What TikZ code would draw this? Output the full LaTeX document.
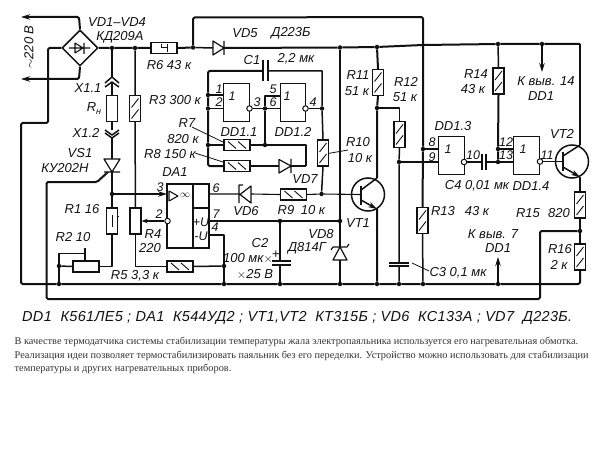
\documentclass[tikz,border=0pt]{standalone}
\usepackage{fontspec}
\setmainfont{Liberation Sans}
\newfontfamily\parafont{Liberation Serif}
\usetikzlibrary{shapes.geometric,arrows.meta}
\definecolor{ink}{HTML}{111111}
\definecolor{paraink}{HTML}{333333}
\tikzset{
  wire/.style={draw=ink,line width=1.5pt,line join=round},
  bus/.style={draw=ink,line width=2pt,line join=round,rounded corners=1.5pt},
  thinw/.style={draw=ink,line width=0.8pt},
  arr/.style={-{Stealth[length=9pt,width=5.5pt]}},
  jn/.style={circle,fill=ink,inner sep=0pt,minimum size=4.5pt},
  lbl/.style={inner sep=0pt,text=ink,font=\itshape\fontsize{13}{13}\selectfont},
  pin/.style={inner sep=0pt,text=ink,font=\itshape\fontsize{12.5}{13}\selectfont},
  chipbox/.style={draw=ink,line width=1.4pt,minimum width=25.5pt,minimum height=38pt,inner sep=0pt},
  bubble/.style={circle,draw=ink,line width=1pt,fill=white,minimum size=5.5pt,inner sep=0pt},
  resv/.style={draw=ink,line width=1.3pt,fill=white,minimum width=11pt,minimum height=26pt,inner sep=0pt},
  resh/.style={draw=ink,line width=1.3pt,fill=white,minimum width=26pt,minimum height=11pt,inner sep=0pt},
  hatchv/.style={resv,path picture={
    \draw[line width=0.9pt,ink] (path picture bounding box.center) ++(-3.5,-1) -- ++(7,-9);
    \draw[line width=0.9pt,ink] (path picture bounding box.center) ++(-3.5,10) -- ++(7,-9);}},
  hatchh/.style={resh,path picture={
    \draw[line width=0.9pt,ink] (path picture bounding box.center) ++(-9,-3.5) -- ++(8,7);
    \draw[line width=0.9pt,ink] (path picture bounding box.center) ++(1,-3.5) -- ++(8,7);}},
  transc/.style={circle,draw=ink,line width=1.5pt,minimum size=33pt,inner sep=0pt},
}
\begin{document}
\begin{tikzpicture}[x=1pt,y=-1pt]
\useasboundingbox (0,0) rectangle (604,449);

% ---------- junctions
\node[jn] (j1) at (112,48) {};
\node[jn] (j2) at (135,48) {};
\node[jn] (j3) at (193,47.5) {};
\node[jn] (j4) at (340,47.5) {};
\node[jn] (j5) at (377,47) {};
\node[jn] (j6) at (498,44) {};
\node[jn] (j7) at (542,44) {};
\node[jn] (j8) at (423,149) {};
\node[jn] (j9) at (59,284) {};
\node[jn] (j9b) at (59,266) {};
\node[jn] (j10) at (224,284) {};
\node[jn] (j10b) at (224,266) {};
\node[jn] (j11) at (280,284) {};
\node[jn] (j12) at (340,284) {};
\node[jn] (j13) at (377,284) {};
\node[jn] (j14) at (399,284) {};
\node[jn] (j15) at (423,284) {};
\node[jn] (j16) at (498,284) {};
\node[jn] (j17) at (580,231) {};
\node[jn] (j18) at (112,194) {};
\node[jn] (j19) at (280,221) {};
\node[jn] (j20) at (340,221) {};
\node[jn] (j21) at (321.5,194) {};
\node[jn] (j22) at (377,108) {};
\node[jn] (j23) at (399,162) {};
\node[jn] (j24) at (498,149) {};
\node[jn] (j25) at (498,162) {};
\node[jn] (j26) at (208,95) {};
\node[jn] (j27) at (208,108.5) {};
\node[jn] (j28) at (208,145) {};
\node[jn] (j29) at (265,108.5) {};
\node[jn] (j30) at (265,145) {};
\node[jn] (j31) at (322,108.5) {};

% ---------- resistors
\node[resh,path picture={\draw[line width=1pt,ink] (path picture bounding box.center) ++(-3,-4) -- ++(0,4) -- ++(6,0) ++(0,-4) -- ++(0,8);}] (R6) at (164,48) {};
\node[resv] (RH) at (112,108.5) {};
\node[hatchv] (R3) at (135,108.5) {};
\node[resv,path picture={\draw[line width=1.3pt,ink] (path picture bounding box.center) ++(0.5,-6) -- ++(0,12);}] (R1) at (112,221) {};
\node[resv,minimum width=11pt] (R4) at (135.5,221) {};
\node[resh] (R2) at (86,266.5) {};
\node[hatchh] (R5) at (180,266.5) {};
\node[hatchh] (R7) at (237,145) {};
\node[hatchh] (R8) at (237,166) {};
\node[hatchh] (R9) at (293.5,194.5) {};
\node[hatchv] (R10) at (323,153) {};
\node[hatchv] (R11) at (378,82.5) {};
\node[hatchv] (R12) at (399.5,134.5) {};
\node[hatchv] (R13) at (422.5,220.5) {};
\node[hatchv] (R14) at (498.5,81) {};
\node[hatchv] (R15) at (580,205) {};
\node[hatchv] (R16) at (580,257) {};

% ---------- chips
\node[chipbox] (DD11) at (236.5,102.5) {};
\node[chipbox] (DD12) at (293,102.5) {};
\node[chipbox] (DD13) at (451.5,155.5) {};
\node[chipbox] (DD14) at (526.5,155.5) {};
\node[bubble] (b1) at (249.5,108.5) {};
\node[bubble] (b2) at (305.5,108.5) {};
\node[bubble] (b3) at (464,162) {};
\node[bubble] (b4) at (540,161.5) {};
\node[chipbox,minimum width=42pt,minimum height=64pt] (DA1) at (188,216) {};
\draw[thinw,line width=1.2pt] (193,184) -- (193,248) (193,208) -- (209,208);
\node[bubble] (b5) at (167.5,221) {};
\node[pin] (l1a) at (232,96) {1};
\node[pin] (l1b) at (287,96) {1};
\node[pin] (l1c) at (448,149) {1};
\node[pin] (l1d) at (523,149) {1};
\draw[wire,line width=1.1pt] (169,191) -- (178,196) -- (169,201) -- cycle;
\node[inner sep=0pt,font=\fontsize{10}{10}\selectfont] (inf) at (185,195.5) {$\infty$};

% ---------- bridge
\node[diamond,aspect=1,draw=ink,line width=1.5pt,minimum width=36pt,minimum height=36pt,inner sep=0pt] (BR) at (80,48) {};
\draw[wire,line width=1.1pt] (69,48) -- (90,48) (75,43) -- (75,53) -- (83,48) -- cycle (84,43) -- (84,54);
\coordinate (c1a) at (79,17);
\coordinate (c1b) at (21,17);
\coordinate (c2a) at (79,79);
\coordinate (c2b) at (21,79);
\draw[bus,arr] (BR.north) -- (c1a) -- (c1b);
\draw[bus,arr] (BR.south) -- (c2a) -- (c2b);
\coordinate (c3a) at (48,48);
\coordinate (c3b) at (48,123);
\coordinate (c3c) at (21,123);
\coordinate (c3d) at (21,284);
\coordinate (c3e) at (580,284);
\draw[bus] (BR.west) -- (c3a) -- (c3b) -- (c3c) -- (c3d) -- (j9) -- (j10) -- (j11) -- (j12) -- (j13) -- (j14) -- (j15) -- (j16) -- (c3e) -- (R16.south);

% ---------- main + rail
\draw[bus] (BR.east) -- (j1) -- (j2) -- (R6.west) (R6.east) -- (j3);
\coordinate (d5a) at (213,48);
\coordinate (d5b) at (224,48);
\draw[wire] (j3) -- (d5a);
\draw[wire,line width=1.2pt] (213,41) -- (213,55) -- (224,48) -- cycle (224,41) -- (224,55);
\coordinate (c4a) at (423,45);
\coordinate (c4b) at (580,44);
\draw[bus] (d5b) -- (j4) -- (j5) -- (c4a) -- (j6) -- (j7) -- (c4b);
\coordinate (c5a) at (193,17.5);
\coordinate (c5b) at (423,17);
\draw[bus] (j3) -- (c5a) -- (c5b) -- (j8) -- (R13.north);
\draw[wire] (R13.south) -- (j15);

% ---------- load branch
\coordinate (x1a) at (112,77);
\coordinate (x1b) at (112,82);
\coordinate (x2a) at (112,130);
\coordinate (x2b) at (112,138);
\coordinate (vsA) at (112,159);
\coordinate (vsK) at (112,172);
\draw[wire] (j1) -- (x1a) (x1b) -- (RH.north) (RH.south) -- (x2a) (x2b) -- (vsA) (vsK) -- (j18) -- (R1.north);
\draw[wire] (105,83) -- (112,77) -- (119,83) (105,87) -- (112,82) -- (119,87);
\draw[wire] (105,130) -- (112,135) -- (119,130) (105,133) -- (112,138) -- (119,133);
\draw[wire,line width=1.2pt] (104,159) -- (120,159) -- (112,172) -- cycle (104,172) -- (120,172);
\coordinate (g1) at (108,172);
\coordinate (g2) at (97,182);
\coordinate (g3) at (46.5,182);
\coordinate (g4) at (46.5,299);
\coordinate (g5) at (540,299);
\coordinate (g6) at (540,231);
\draw[bus] (g1) -- (g2) -- (g3) -- (g4) -- (g5) -- (g6) -- (j17);
\draw[wire,line width=1pt] (117,216) -- (119,216);
\coordinate (r1b) at (112,266.5);
\draw[wire] (R1.south) -- (r1b) -- (R2.east);
\draw[wire] (R2.west) -- (j9b);
\coordinate (r2t) at (59,253.5);
\coordinate (r2u) at (85,253.5);
\coordinate (r2v) at (85,248);
\draw[wire] (j9) -- (j9b) -- (r2t) -- (r2u);
\draw[wire] (r2v) -- (R2.north -| r2v);

% ---------- R3, R4, R5
\draw[wire] (j2) -- (R3.north) (R3.south) -- (R4.north);
\coordinate (r4b) at (135.5,266.5);
\draw[wire] (R4.south) -- (r4b) -- (R5.west);
\draw[wire] (R5.east) -- (j10b);
\draw[wire,<-,>={Stealth[length=6pt,width=4.5pt]}] (R4.east) -- (b5.west);
\coordinate (p3) at (167,194);
\draw[wire,arr] (j18) -- (p3);
\coordinate (p4a) at (209,235);
\coordinate (p4b) at (224,235);
\draw[wire] (p4a) -- (p4b) -- (j10b) -- (j10);
\coordinate (p7) at (209,221);
\draw[wire] (p7) -- (j19) -- (j20);
\coordinate (p6) at (209,194);
\coordinate (vd6k) at (240,194);
\coordinate (vd6a) at (251,194);
\draw[wire,line width=1.1pt] (p6) -- (vd6k) (vd6a) -- (R9.west);
\draw[wire,line width=1.2pt] (251,186) -- (251,203) -- (240,194.5) -- cycle (243,185) -- (239,185) -- (239,203);

% ---------- C2
\coordinate (c2t) at (280,261);
\coordinate (c2b) at (280,265);
\draw[wire] (j19) -- (c2t) (c2b) -- (j11);
\draw[wire] (272,261) -- (291,261) (272,265) -- (291,265);
\node[pin,font=\fontsize{13}{13}\selectfont] (c2plus) at (276,255) {+};

% ---------- VD8
\coordinate (vd8t) at (340,247);
\draw[bus] (j4) -- (j20) -- (vd8t);
\coordinate (vd8b) at (340,260);
\draw[bus] (vd8b) -- (j12);
\draw[wire,line width=1.2pt] (333,260) -- (347,260) -- (340,247) -- cycle (331,250) -- (333,247) -- (347,247) -- (349,244);

% ---------- VT1
\node[transc] (VT1) at (368,194.5) {};
\coordinate (bt1) at (361,194.5);
\draw[wire,line width=1.1pt] (R9.east) -- (j21) -- (bt1);
\draw[wire,line width=1.8pt] (361,186) -- (361,205);
\coordinate (vt1c) at (377,178);
\coordinate (vt1e) at (377,209);
\draw[wire] (361,190) -- (vt1c);
\draw[wire,arr] (361,200) -- (vt1e);
\draw[bus] (j5) -- (R11.north) (R11.south) -- (j22) -- (vt1c) (vt1e) -- (j13);
\coordinate (r12a) at (399.5,108);
\draw[wire] (j22) -- (r12a) -- (R12.north);
\coordinate (c3t) at (399,263);
\coordinate (c3u) at (399,266);
\draw[wire] (R12.south) -- (j23) -- (c3t) (c3u) -- (j14);
\draw[wire] (389,263) -- (409,263) (389,266) -- (409,266);
\coordinate (c3l1) at (412,263);
\coordinate (c3l2) at (429,271);
\draw[thinw] (c3l1) -- (c3l2);

% ---------- DD1.1 / DD1.2
\coordinate (rail1) at (208,71);
\coordinate (c1p1) at (263,71);
\coordinate (c1p2) at (268,71);
\coordinate (c1r) at (322,71);
\coordinate (rail2) at (208,166);
\draw[bus] (c1p1) -- (rail1) -- (j26) -- (j27) -- (j28) -- (rail2) -- (R8.west);
\draw[wire] (c1p2) -- (c1r) -- (j31) -- (R10.north);
\draw[wire] (263,60) -- (263,81) (268,60) -- (268,81);
\coordinate (pa1) at (224,95);
\coordinate (pa2) at (224,108.5);
\draw[wire] (j26) -- (pa1) (j27) -- (pa2);
\draw[wire] (b1) -- (j29) (j29) -- (j30);
\coordinate (pb5a) at (265,96);
\coordinate (pb5b) at (280,96);
\coordinate (pb6) at (280,108.5);
\draw[wire] (j29) -- (pb5a) -- (pb5b) (j29) -- (pb6);
\draw[wire] (b2) -- (j31);
\draw[wire] (j28) -- (R7.west) (R7.east) -- (j30);
\coordinate (e1) at (306,145);
\coordinate (e2) at (306,166);
\draw[wire] (j30) -- (e1) -- (e2);
\coordinate (vd7a) at (279,166);
\coordinate (vd7k) at (291,166);
\draw[wire] (R8.east) -- (vd7a) (vd7k) -- (e2);
\draw[wire,line width=1.2pt] (279,159.5) -- (279,173) -- (291,166) -- cycle (291,159) -- (291,173);
\draw[wire] (R10.south) -- (j21);
\coordinate (l7a) at (192,127);
\coordinate (l7b) at (225,143);
\draw[thinw] (l7a) -- (l7b);
\coordinate (l8a) at (195,153);
\coordinate (l8b) at (223,162);
\draw[thinw] (l8a) -- (l8b);
\coordinate (l10a) at (328,153.5);
\coordinate (l10b) at (348,150);
\draw[thinw] (l10a) -- (l10b);

% ---------- DD1.3 / DD1.4
\coordinate (p8) at (439,149);
\coordinate (p9) at (439,162);
\draw[wire] (j8) -- (p8);
\draw[wire] (j23) -- (p9);
\coordinate (c4a1) at (482,162);
\coordinate (c4b1) at (486,162);
\draw[wire] (b3) -- (c4a1) (c4b1) -- (j25);
\draw[wire] (482,154) -- (482,170) (486,154) -- (486,170);
\coordinate (p12) at (514,149);
\coordinate (p13) at (514,162);
\draw[wire] (j6) -- (R14.north);
\draw[bus] (R14.south) -- (j24) -- (j25);
\draw[wire] (j24) -- (p12) (j25) -- (p13);
\coordinate (k14) at (542,72);
\draw[wire,line width=1.1pt,arr] (j7) -- (k14);
\coordinate (k7) at (498,257);
\draw[wire,line width=1.1pt,arr] (j16) -- (k7);

% ---------- VT2
\node[transc] (VT2) at (572,161.5) {};
\coordinate (bt2) at (563,161.5);
\draw[wire] (b4) -- (bt2);
\draw[wire,line width=1.8pt] (563,152) -- (563,171);
\coordinate (vt2c) at (580,145);
\coordinate (vt2e) at (580,177);
\draw[wire] (563,156) -- (vt2c);
\draw[wire,arr] (563,167) -- (vt2e);
\draw[bus] (c4b) -- (vt2c) (vt2e) -- (R15.north) (R15.south) -- (j17) -- (R16.north);

% ---------- labels
\node[lbl] (t1) at (117,22) {VD1–VD4};
\node[lbl] (t2) at (120,37) {КД209А};
\node[lbl,rotate=90] (t3) at (29,47) {$\sim$220 В};
\node[lbl] (t4) at (169,65) {R6 43 к};
\node[lbl] (t5) at (88,88) {X1.1};
\node[lbl] (t6) at (94,109) {R\raisebox{-3pt}{\fontsize{9}{9}\selectfont н}};
\node[lbl] (t7) at (86,133) {X1.2};
\node[lbl] (t8) at (175,100) {R3 300 к};
\node[lbl] (t9) at (187,123) {R7};
\node[lbl] (t10) at (183,139) {820 к};
\node[lbl] (t11) at (170,154) {R8 150 к};
\node[lbl] (t12) at (80,153) {VS1};
\node[lbl] (t13) at (65,168) {КУ202Н};
\node[lbl] (t14) at (175,172) {DA1};
\node[pin] (t15) at (160,187) {3};
\node[pin] (t16) at (159,214) {2};
\node[lbl] (t17) at (153,234) {R4};
\node[lbl] (t18) at (150,248) {220};
\node[lbl] (t19) at (82,209) {R1 16};
\node[lbl] (t20) at (73,237) {R2 10};
\node[lbl] (t21) at (135,276) {R5 3,3 к};
\node[lbl] (t22) at (252,60) {C1};
\node[lbl] (t23) at (296,59) {2,2 мк};
\node[lbl] (t24) at (245,33) {VD5};
\node[lbl] (t25) at (291,33) {Д223Б};
\node[lbl] (t26) at (239,132) {DD1.1};
\node[lbl] (t27) at (293,132) {DD1.2};
\node[pin] (t28) at (219,89) {1};
\node[pin] (t29) at (219,102) {2};
\node[pin] (t30) at (257,102) {3};
\node[pin] (t31) at (273,89) {5};
\node[pin] (t32) at (273,102) {6};
\node[pin] (t33) at (313,102) {4};
\node[lbl] (t34) at (358,75) {R11};
\node[lbl] (t35) at (357,91) {51 к};
\node[lbl] (t36) at (406,82) {R12};
\node[lbl] (t37) at (405,97) {51 к};
\node[lbl] (t38) at (358,142) {R10};
\node[lbl] (t39) at (360,158) {10 к};
\node[lbl] (t40) at (305,179) {VD7};
\node[lbl] (t41) at (246,211) {VD6};
\node[pin] (t42) at (216,188) {6};
\node[pin] (t43) at (216,214) {7};
\node[pin] (t44) at (215,227) {4};
\node[lbl] (t45) at (286,210) {R9};
\node[lbl] (t46) at (313,210) {10 к};
\node[lbl] (t47) at (358,223) {VT1};
\node[lbl] (t48) at (321,234) {VD8};
\node[lbl] (t49) at (307,248) {Д814Г};
\node[lbl] (t50) at (260,243) {C2};
\node[lbl] (t51) at (248,258) {100 мк$\times$};
\node[lbl] (t52) at (255,274) {$\times$25 В};
\node[lbl] (t53) at (453,126) {DD1.3};
\node[pin] (t54) at (432,142) {8};
\node[pin] (t55) at (432,157) {9};
\node[pin] (t56) at (473,155) {10};
\node[pin] (t57) at (506,142) {12};
\node[pin] (t58) at (506,155) {13};
\node[pin] (t59) at (547,155) {11};
\node[lbl] (t60) at (562,134) {VT2};
\node[lbl] (t61) at (477,186) {C4 0,01 мк};
\node[lbl] (t62) at (531,186) {DD1.4};
\node[lbl] (t63) at (443,211) {R13};
\node[lbl] (t64) at (477,211) {43 к};
\node[lbl] (t65) at (528,213) {R15};
\node[lbl] (t66) at (559,213) {820};
\node[lbl] (t67) at (493,234) {К выв. 7};
\node[lbl] (t68) at (498,248) {DD1};
\node[lbl] (t69) at (458,273) {C3 0,1 мк};
\node[lbl] (t70) at (560,249) {R16};
\node[lbl] (t71) at (559,265) {2 к};
\node[lbl] (t72) at (476,74) {R14};
\node[lbl] (t73) at (473,89) {43 к};
\node[lbl] (t74) at (546,81) {К выв. 14};
\node[lbl] (t75) at (541,96) {DD1};
\node[pin] (t76) at (201,222) {+U};
\node[pin] (t77) at (201,236) {-U};

\node[anchor=west,inner sep=0pt,text=ink,font=\itshape\fontsize{14.5}{15}\selectfont\addfontfeatures{LetterSpace=2.2}] (legend) at (22,318) {DD1 \ К561ЛЕ5 ; DA1 \ К544УД2 ; VT1,VT2 \ КТ315Б ; VD6 \ КС133А ; VD7 \ Д223Б.};
\node[anchor=north west,inner sep=0pt,align=left,text=paraink,font=\parafont\fontsize{10.3}{13.5}\selectfont] (para) at (14.5,337) {В качестве термодатчика системы стабилизации температуры жала электропаяльника используется его нагревательная обмотка.\\Реализация идеи позволяет термостабилизировать паяльник без его переделки. Устройство можно использовать для стабилизации\\температуры и других нагревательных приборов.};
\end{tikzpicture}
\end{document}
